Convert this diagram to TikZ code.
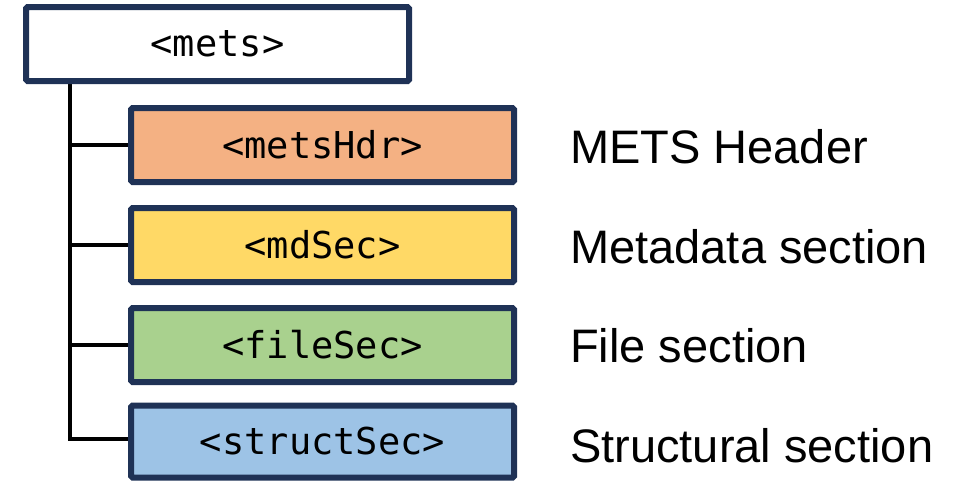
\documentclass[tikz,border=0pt]{standalone}
\usepackage{fontspec}
\setmainfont{Liberation Sans}
\newfontfamily\codefont{DejaVu Sans Mono}
\usetikzlibrary{backgrounds}
\definecolor{navy}{HTML}{1F3256}
\definecolor{fillhdr}{HTML}{F4B183}
\definecolor{fillmd}{HTML}{FFD966}
\definecolor{fillfile}{HTML}{A9D18E}
\definecolor{fillstruct}{HTML}{9DC3E6}
\begin{document}
\begin{tikzpicture}[x=1pt,y=-1pt,
  elbox/.style={draw=navy, line width=6pt, rounded corners=1.5pt, inner sep=0pt,
    minimum width=383pt, minimum height=74pt,
    font=\codefont\fontsize{37}{44}\selectfont, text=black},
  desc/.style={anchor=base west, inner sep=0pt, font=\fontsize{47}{56}\selectfont, text=black},
  conn/.style={draw=black, line width=4pt}]
\useasboundingbox (0,0) rectangle (958,482);
\node[elbox, fill=white] (mets) at (217.5,44) {<mets>};
\node[elbox, fill=fillhdr] (hdr) at (322.5,145) {<metsHdr>};
\node[elbox, fill=fillmd] (md) at (322.5,245) {<mdSec>};
\node[elbox, fill=fillfile] (file) at (322.5,345) {<fileSec>};
\node[elbox, fill=fillstruct, minimum height=72pt] (struct) at (322.5,441.5) {<structSec>};
\coordinate (spine) at (70,0);
\begin{scope}[on background layer]
\draw[conn] (mets.south -| spine) |- (hdr.west);
\draw[conn] (mets.south -| spine) |- (md.west);
\draw[conn] (mets.south -| spine) |- (file.west);
\draw[conn] (mets.south -| spine) |- ([yshift=2.5pt]struct.west);
\end{scope}
\node[desc] (lhdr) at (570,163) {METS Header};
\node[desc] (lmd) at (570,263) {Metadata section};
\node[desc] (lfile) at (570,362) {File section};
\node[desc] (lstruct) at (570,462) {Structural section};
\end{tikzpicture}
\end{document}
